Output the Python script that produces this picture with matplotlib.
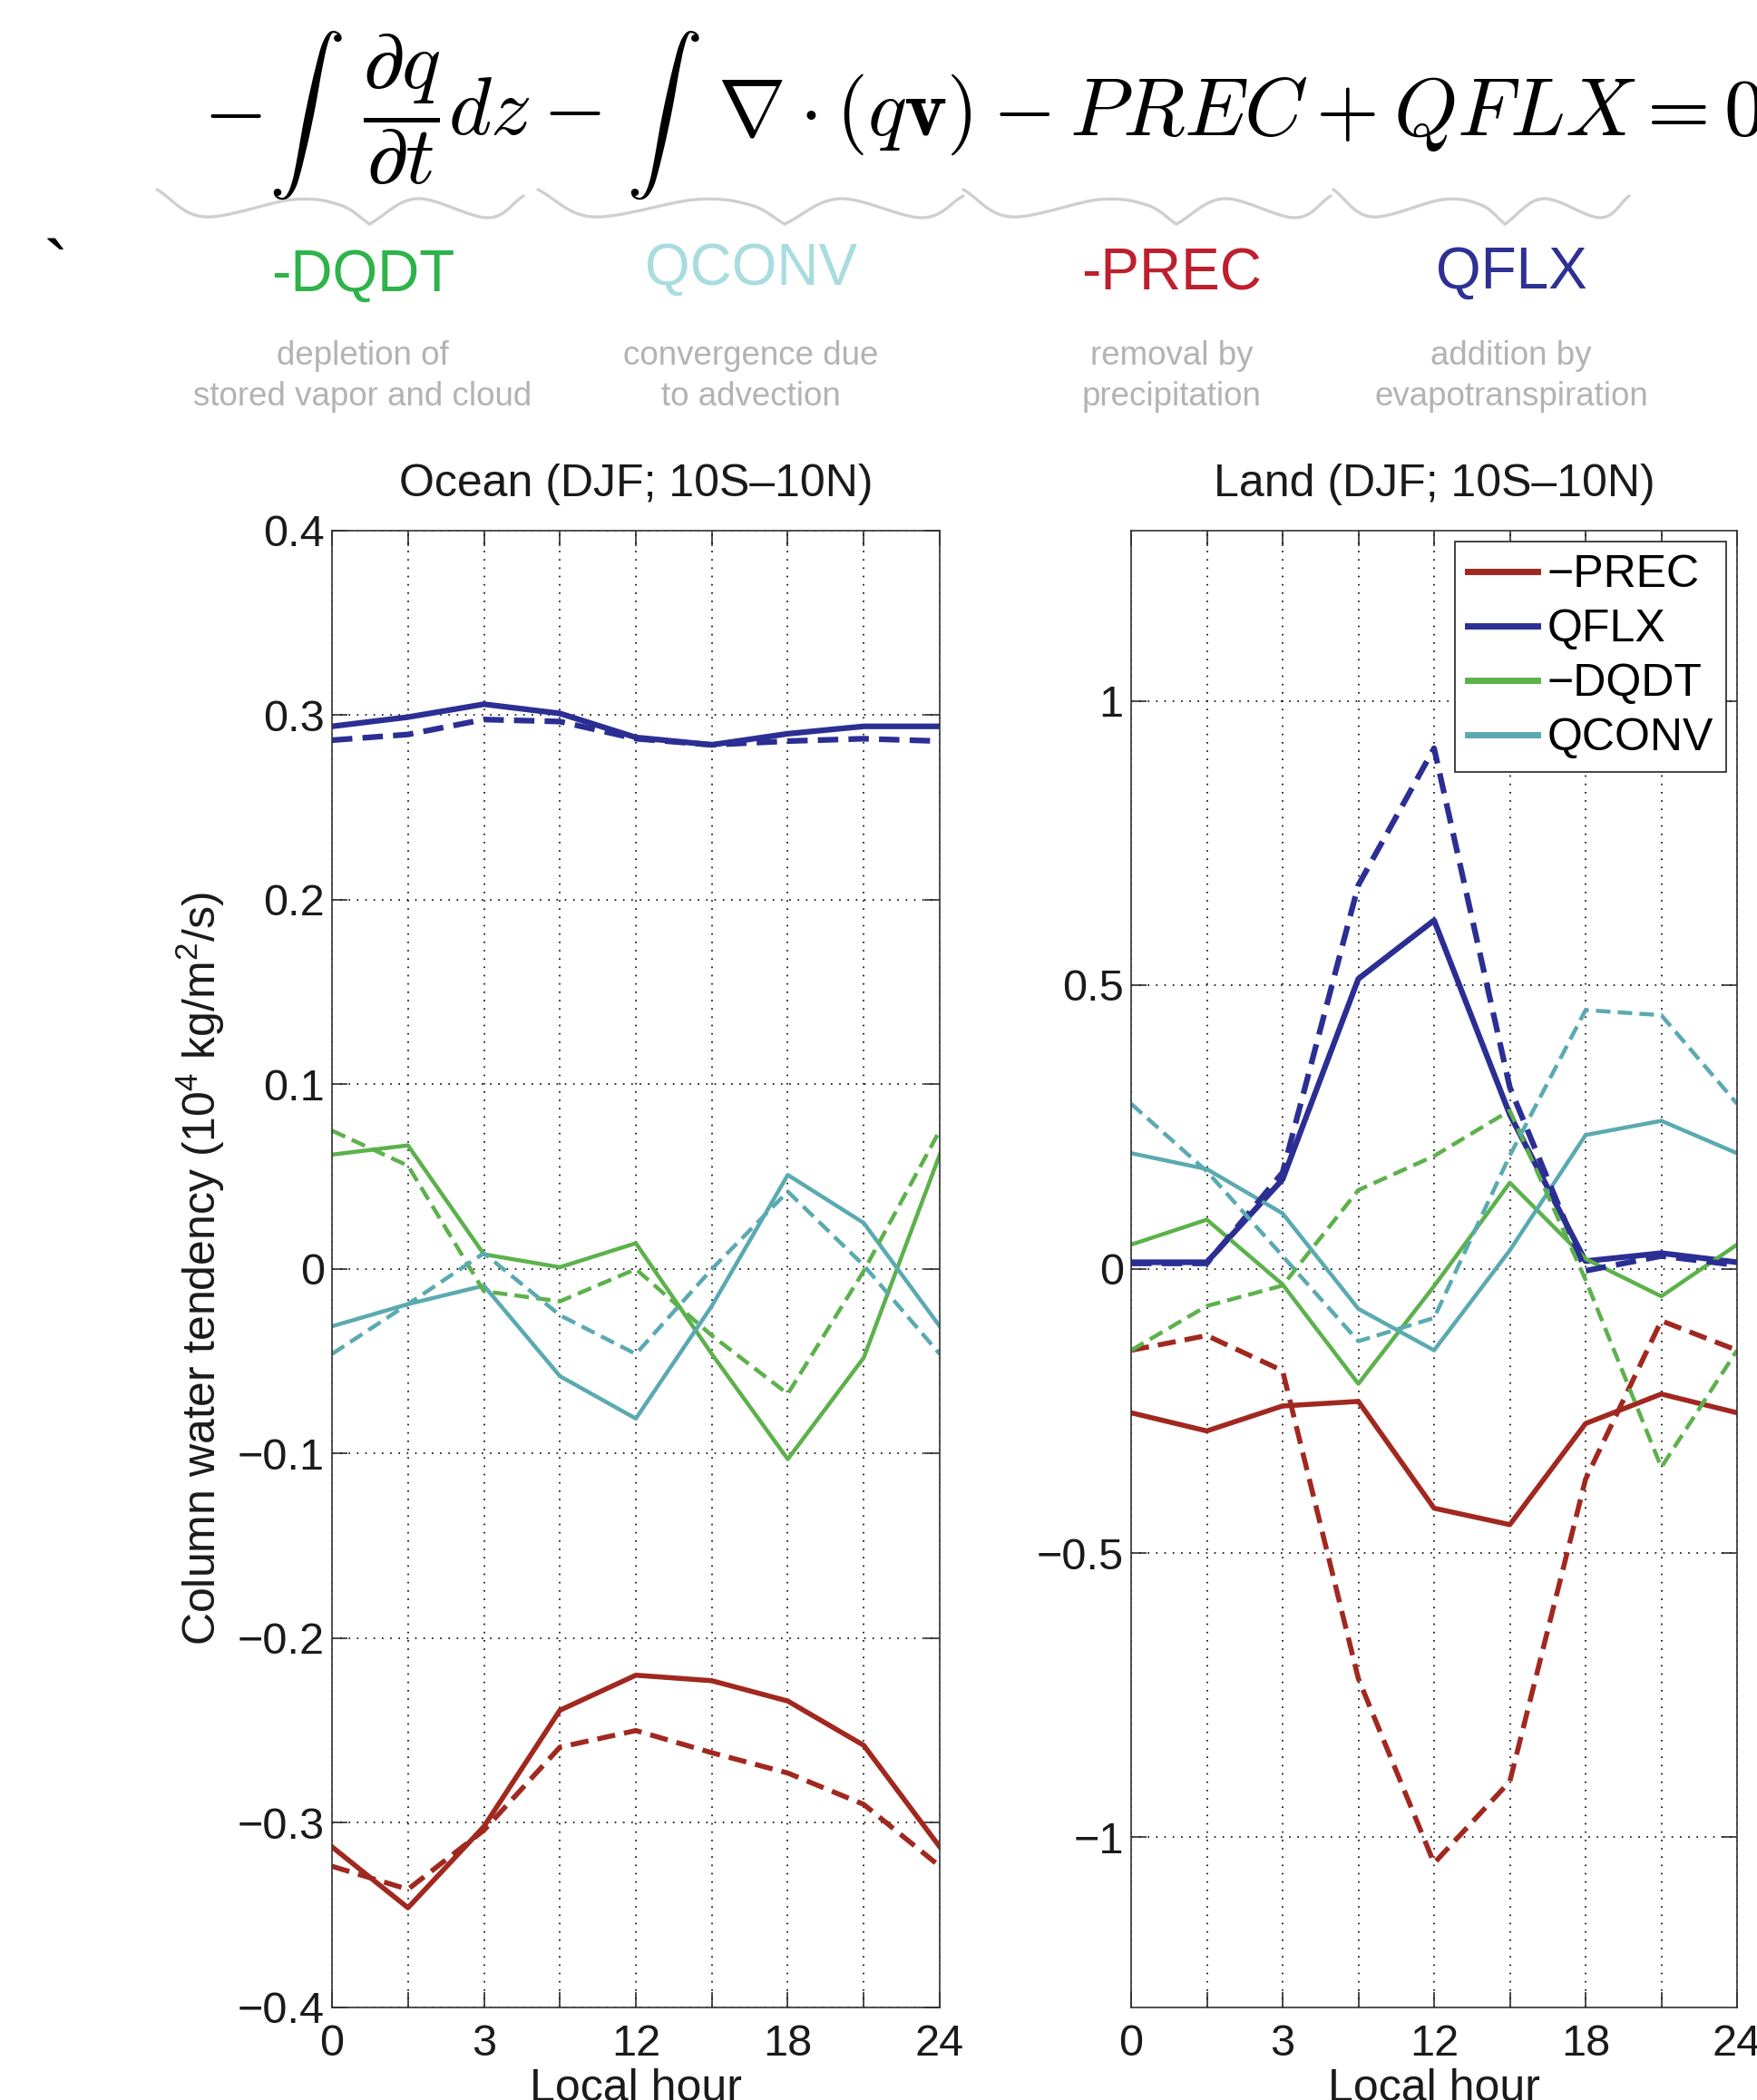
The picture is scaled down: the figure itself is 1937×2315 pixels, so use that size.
#Import Modules
import numpy as np
import matplotlib
matplotlib.use("Agg")
import matplotlib.pyplot as plt
from matplotlib.lines import Line2D

#Fonts (Helvetica look-alike for text, custom mathtext so superscripts match)
plt.rcParams["font.family"] = ["Liberation Sans", "DejaVu Sans"]
plt.rcParams["mathtext.fontset"] = "custom"
plt.rcParams["mathtext.rm"] = "Liberation Sans"
plt.rcParams["mathtext.it"] = "Liberation Sans:italic"
plt.rcParams["mathtext.bf"] = "Liberation Sans:bold"
plt.rcParams["axes.unicode_minus"] = True

#Data - local hour and tick labels
hours = [0, 3, 6, 9, 12, 15, 18, 21, 24]
hour_labels = ["0", "", "3", "", "12", "", "18", "", "24"]

#Ocean (solid)
ocean_prec = [-0.313, -0.346, -0.302, -0.239, -0.220, -0.223, -0.234, -0.258, -0.313]
ocean_qflx = [0.294, 0.299, 0.306, 0.301, 0.288, 0.284, 0.290, 0.294, 0.294]
ocean_dqdt = [0.062, 0.067, 0.008, 0.001, 0.014, -0.046, -0.103, -0.048, 0.062]
ocean_qconv = [-0.031, -0.019, -0.009, -0.058, -0.081, -0.020, 0.051, 0.025, -0.031]

#Ocean (dashed)
ocean_prec_d = [-0.3235, -0.336, -0.304, -0.259, -0.250, -0.262, -0.273, -0.290, -0.3235]
ocean_qflx_d = [0.2865, 0.2896, 0.2977, 0.2966, 0.2873, 0.2840, 0.2860, 0.2873, 0.2860]
ocean_dqdt_d = [0.075, 0.056, -0.012, -0.0175, 0.0, -0.036, -0.0676, -0.001, 0.075]
ocean_qconv_d = [-0.046, -0.019, 0.0086, -0.025, -0.046, 0.0, 0.042, 0.002, -0.046]

#Land (solid)
land_prec = [-0.253, -0.285, -0.241, -0.233, -0.421, -0.450, -0.272, -0.220, -0.253]
land_qflx = [0.012, 0.012, 0.158, 0.511, 0.614, 0.272, 0.014, 0.028, 0.012]
land_dqdt = [0.043, 0.087, -0.027, -0.202, -0.030, 0.152, 0.018, -0.048, 0.043]
land_qconv = [0.204, 0.176, 0.098, -0.070, -0.143, 0.033, 0.236, 0.261, 0.204]

#Land (dashed)
land_prec_d = [-0.143, -0.117, -0.179, -0.721, -1.046, -0.902, -0.370, -0.091, -0.143]
land_qflx_d = [0.010, 0.010, 0.170, 0.676, 0.917, 0.320, -0.003, 0.023, 0.007]
land_dqdt_d = [-0.143, -0.065, -0.029, 0.139, 0.199, 0.279, -0.019, -0.349, -0.143]
land_qconv_d = [0.291, 0.172, 0.023, -0.127, -0.086, 0.200, 0.456, 0.447, 0.291]

#Header terms
terms = ["-DQDT", "QCONV", "-PREC", "QFLX"]
term_notes = ["depletion of\nstored vapor and cloud", "convergence due\nto advection",
              "removal by\nprecipitation", "addition by\nevapotranspiration"]

#Colours
prec_color = "#A1281F"
qflx_color = "#2B2E93"
dqdt_color = "#5CB14B"
qconv_color = "#5AAAB0"
term_colors = ["#2DB34A", "#A9DCDF", "#BE1E2D", "#2E3192"]

W, H = 1937, 2315
fig = plt.figure(figsize=(W / 100, H / 100), dpi=100)
renderer = fig.canvas.get_renderer()

def fx(px):
    return px / W

def fy(py):
    return 1 - py / H

#Equation across the top
eq_kw = dict(math_fontfamily="cm", color="black", va="baseline", ha="left")
base = fy(149)
fig.text(fx(224), base, r"$-$", fontsize=65, **eq_kw)
fig.text(fx(400), base, r"$\dfrac{\partial q}{\partial t}dz-$", fontsize=65, **eq_kw)
fig.text(fx(791), base, r"$\nabla\cdot(q\mathbf{v})-PREC+QFLX=0$", fontsize=64.5, **eq_kw)

#integral signs sized to the space they take in the equation
def place_integral(x_left, y_top, y_bottom):
    t = fig.text(fx(x_left), fy(y_bottom), r"$\int$", fontsize=60, math_fontfamily="cm",
                 ha="left", va="bottom")
    bb = t.get_window_extent(renderer)
    t.set_fontsize(60 * (y_bottom - y_top) / bb.height)
    return t

place_integral(296, 30, 222)
place_integral(690, 30, 222)

#Curly braces under each term
def brace_curve(pts, n=25):
    pts = np.array(pts, dtype=float)
    ext = np.vstack([2 * pts[0] - pts[1], pts, 2 * pts[-1] - pts[-2]])
    out = []
    for i in range(1, len(ext) - 2):
        p0, p1, p2, p3 = ext[i - 1], ext[i], ext[i + 1], ext[i + 2]
        t = np.linspace(0, 1, n)[:, None]
        seg = 0.5 * ((2 * p1) + (-p0 + p2) * t + (2 * p0 - 5 * p1 + 4 * p2 - p3) * t ** 2
                     + (-p0 + 3 * p1 - 3 * p2 + p3) * t ** 3)
        out.append(seg)
    return np.vstack(out)

left_half = [(0, 0), (0.13, 30), (0.37, 11), (0.50, 17), (0.58, 38)]
right_half = [(0.58, 38), (0.71, 10), (0.903, 31), (1.0, 7)]
brace_spans = [(173, 577), (593, 1062), (1062, 1467), (1470, 1796)]
for x0, x1 in brace_spans:
    for half in (left_half, right_half):
        c = brace_curve(half)
        px = x0 + c[:, 0] * (x1 - x0)
        py = 209 + c[:, 1]
        fig.add_artist(Line2D(fx(px), fy(py), color="#CFCFCF", lw=2.4,
                              solid_capstyle="round", transform=fig.transFigure))

#stray tick mark on the left
fig.text(fx(62), fy(302), "`", fontsize=60, ha="center", va="center", color="black")

#Term names and their meaning
term_x = [400, 828, 1292, 1666]
term_y = [304, 297, 303, 301]
for name, note, col, x, y in zip(terms, term_notes, term_colors, term_x, term_y):
    fig.text(fx(x), fy(y), name, fontsize=46, color=col, ha="center", va="center")
    fig.text(fx(x), fy(415), note, fontsize=26.5, color="#B3B3B3", ha="center", va="center",
             linespacing=1.38)

#Panels
ax1 = fig.add_axes([fx(366), fy(2213), fx(1036 - 366), (2213 - 585) / H])
ax2 = fig.add_axes([fx(1247), fy(2213), fx(1915 - 1247), (2213 - 585) / H])

def draw_panel(ax, solid, dashed, title):
    cols = [prec_color, qflx_color, dqdt_color, qconv_color]
    widths = [4.0, 4.5, 3.2, 3.2]
    names = ["\u2212PREC", "QFLX", "\u2212DQDT", "QCONV"]
    for vals, c, lw, nm in zip(solid, cols, widths, names):
        ax.plot(hours, vals, color=c, lw=lw, label=nm)
    for vals, c, lw in zip(dashed, cols, widths):
        ax.plot(hours, vals, color=c, lw=lw, linestyle=(0, (3.6, 1.8)))
    ax.set_xlim(0, 24)
    ax.set_xticks(hours)
    ax.set_xticklabels(hour_labels)
    ax.grid(True, linestyle=(0, (1, 4.5)), color="black", lw=1.2)
    ax.tick_params(direction="in", length=12, width=1.1, top=True, right=True,
                   labelsize=35, colors="#1A1A1A")
    ax.tick_params(axis="x", pad=13)
    ax.tick_params(axis="y", pad=6)
    for s in ax.spines.values():
        s.set_linewidth(1.2)
        s.set_color("#333333")
    ax.set_title(title, fontsize=36, pad=27, color="#1A1A1A")
    ax.set_xlabel("Local hour", fontsize=36, color="#1A1A1A")
    ax.xaxis.set_label_coords(0.5, -0.041)

draw_panel(ax1, [ocean_prec, ocean_qflx, ocean_dqdt, ocean_qconv],
           [ocean_prec_d, ocean_qflx_d, ocean_dqdt_d, ocean_qconv_d], "Ocean (DJF; 10S\u201310N)")
ax1.set_ylim(-0.4, 0.4)
oticks = np.round(np.arange(-0.4, 0.41, 0.1), 1)
ax1.set_yticks(oticks)
ax1.set_yticklabels([("0" if v == 0 else f"{v:g}").replace("-", "\u2212") for v in oticks])
ax1.set_ylabel(r"Column water tendency ($\mathregular{10^4}$ kg/m$\mathregular{^2}$/s)",
               fontsize=36, color="#1A1A1A")
ax1.yaxis.set_label_coords(-0.173, 0.5)

draw_panel(ax2, [land_prec, land_qflx, land_dqdt, land_qconv],
           [land_prec_d, land_qflx_d, land_dqdt_d, land_qconv_d], "Land (DJF; 10S\u201310N)")
ax2.set_ylim(-1.3, 1.3)
lticks = [-1, -0.5, 0, 0.5, 1]
ax2.set_yticks(lticks)
ax2.set_yticklabels([f"{v:g}".replace("-", "\u2212") for v in lticks])

leg = ax2.legend(loc="upper right", fontsize=36, handlelength=1.55, handletextpad=0.2,
                 labelspacing=0.28, borderpad=0.28, borderaxespad=0.25, fancybox=False,
                 edgecolor="#222222", framealpha=1)
leg.get_frame().set_linewidth(1.2)
for line in leg.get_lines():
    line.set_linewidth(5)

fig.savefig("out.png", dpi=100)
